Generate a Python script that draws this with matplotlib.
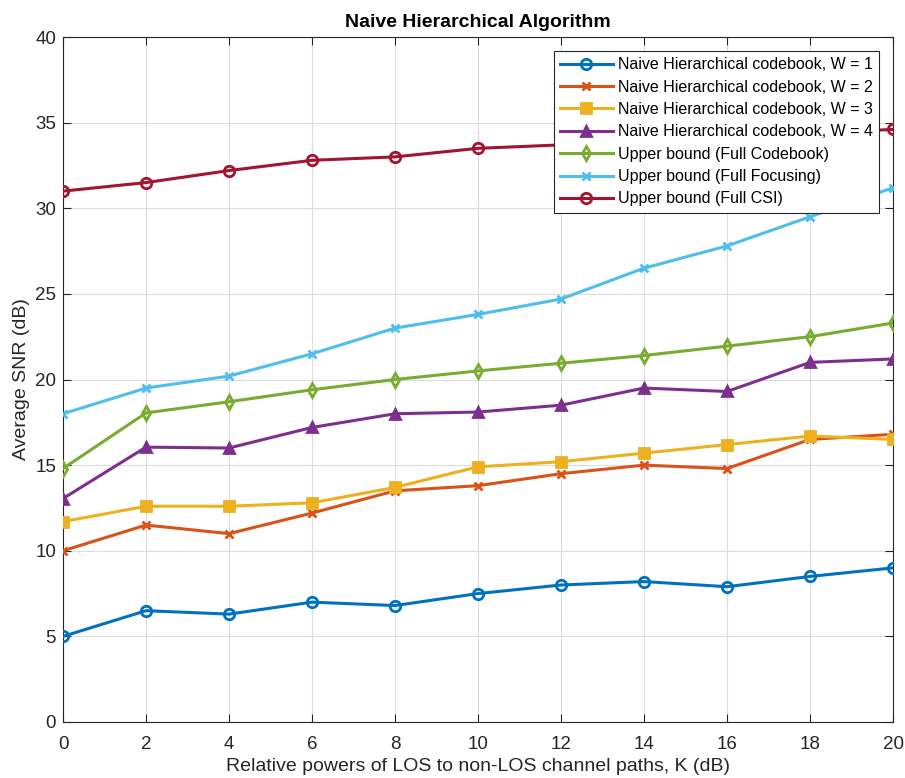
import matplotlib
matplotlib.use("Agg")
import matplotlib.pyplot as plt

plt.rcParams['font.family'] = ['Liberation Sans', 'DejaVu Sans']

K = [0, 2, 4, 6, 8, 10, 12, 14, 16, 18, 20]
w1 = [5.0, 6.5, 6.3, 7.0, 6.8, 7.5, 8.0, 8.2, 7.9, 8.5, 9.0]
w2 = [10.0, 11.5, 11.0, 12.2, 13.5, 13.8, 14.5, 15.0, 14.8, 16.5, 16.8]
w3 = [11.7, 12.6, 12.6, 12.8, 13.7, 14.9, 15.2, 15.7, 16.2, 16.7, 16.5]
w4 = [13.05, 16.05, 16.0, 17.2, 18.0, 18.1, 18.5, 19.5, 19.3, 21.0, 21.2]
full_codebook = [14.8, 18.05, 18.7, 19.4, 20.0, 20.5, 20.95, 21.4, 21.95, 22.5, 23.3]
full_focusing = [18.0, 19.5, 20.2, 21.5, 23.0, 23.8, 24.7, 26.5, 27.8, 29.5, 31.2]
full_csi = [31.0, 31.5, 32.2, 32.8, 33.0, 33.5, 33.7, 34.0, 34.2, 34.4, 34.6]

labels = ['Naive Hierarchical codebook, W = 1',
          'Naive Hierarchical codebook, W = 2',
          'Naive Hierarchical codebook, W = 3',
          'Naive Hierarchical codebook, W = 4',
          'Upper bound (Full Codebook)',
          'Upper bound (Full Focusing)',
          'Upper bound (Full CSI)']
series = [w1, w2, w3, w4, full_codebook, full_focusing, full_csi]
colors = ['#0072BD', '#D95319', '#EDB120', '#7E2F8E', '#77AC30', '#4DBEEE', '#A2142F']
markers = ['o', 'x', 's', '^', 'd', 'x', 'o']
filled = [False, True, True, True, False, True, False]
sizes = [7.5, 6, 6.5, 7.5, 7.5, 6, 7.5]

fig = plt.figure(figsize=(9.05, 7.78), dpi=100)
ax = fig.add_axes([63/905, (778-722)/778, (893-63)/905, (722-37)/778])

for y, lab, c, m, f, ms in zip(series, labels, colors, markers, filled, sizes):
    ax.plot(K, y, color=c, marker=m, lw=2.2, ms=ms, mew=2,
            mfc=(c if f else 'none'), mec=c, label=lab, zorder=3)

ax.set_xlim(0, 20)
ax.set_ylim(0, 40)
ax.set_xticks(range(0, 21, 2))
ax.set_yticks(range(0, 41, 5))
ax.grid(True, color='#dcdcdc', lw=0.8)
ax.set_axisbelow(True)
ax.tick_params(direction='in', top=True, right=True, labelsize=13.5,
               colors='#262626', length=6)
ax.tick_params(axis='x', pad=10)
ax.tick_params(axis='y', pad=5)
for s in ax.spines.values():
    s.set_color('#262626')
    s.set_linewidth(0.8)

ax.set_xlabel('Relative powers of LOS to non-LOS channel paths, K (dB)',
              fontsize=14, color='#262626', labelpad=4)
ax.set_ylabel('Average SNR (dB)', fontsize=14, color='#262626', labelpad=4)
ax.set_title('Naive Hierarchical Algorithm', fontsize=14, fontweight='bold',
             color='black', pad=7)

leg = ax.legend(loc='upper right', bbox_to_anchor=((879-63)/830, (722-51)/685),
                borderaxespad=0, fontsize=11.5, fancybox=False, framealpha=1,
                edgecolor='#262626', handlelength=3.3, handletextpad=0.3,
                labelspacing=0.46, borderpad=0.4)
leg.get_frame().set_linewidth(0.8)
leg.set_zorder(5)

fig.savefig('out.png', dpi=100)
